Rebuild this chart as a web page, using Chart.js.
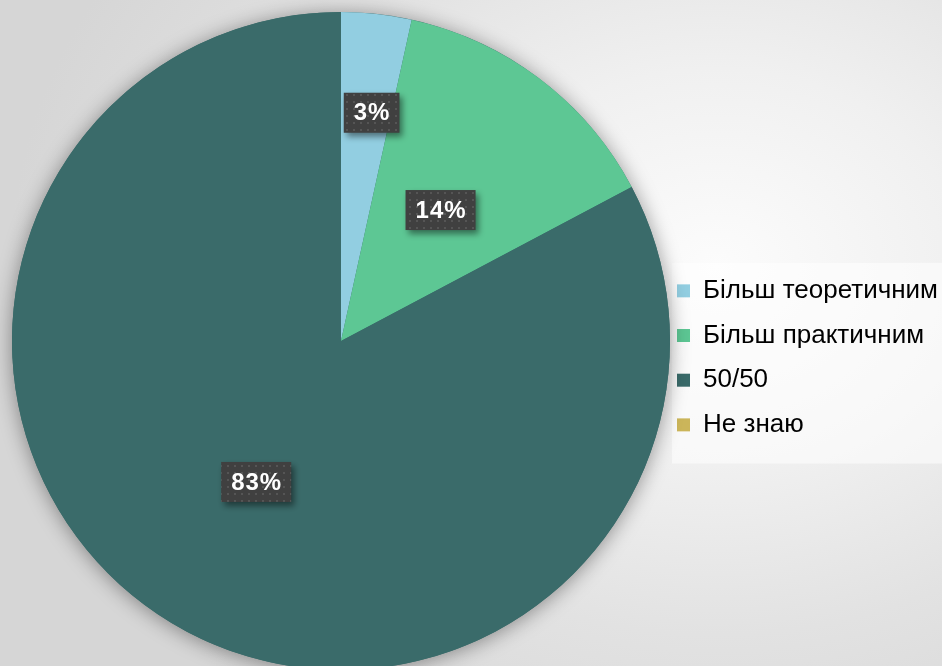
<!DOCTYPE html>
<html lang="uk">
<head>
  <meta charset="UTF-8" />
  <title>Більш теоретичним / практичним</title>
  <script src="https://cdn.jsdelivr.net/npm/chart.js@4.4.3/dist/chart.umd.min.js"></script>
  <style>
    html, body {
      margin: 0;
      padding: 0;
      width: 942px;
      height: 666px;
      overflow: hidden;
      background: radial-gradient(ellipse 75% 85% at 76% 40%, #fcfcfc 0%, #f0f0f0 35%, #e2e2e2 65%, #d6d6d6 100%);
    }
    .chart-box {
      width: 942px;
      height: 680px;
    }
  </style>
</head>
<body>
  <div class="chart-box">
    <canvas id="pieChart" width="942" height="680"></canvas>
  </div>

  <script>
    // Відповіді (кількість)
    const labels = ['Більш теоретичним', 'Більш практичним', '50/50', 'Не знаю'];
    const values = [1, 4, 24, 0];
    const colors = ['#92cee1', '#5dc794', '#3a6b6a', '#cbb55a'];

    const font = 'Arial, "Liberation Sans", sans-serif';

    // крапковий фон для підписів
    function makePattern(ctx) {
      const p = document.createElement('canvas');
      p.width = 7; p.height = 7;
      const pc = p.getContext('2d');
      pc.fillStyle = '#404040';
      pc.fillRect(0, 0, 7, 7);
      pc.fillStyle = '#555555';
      pc.fillRect(3, 3, 2, 2);
      return ctx.createPattern(p, 'repeat');
    }

    // тінь під кругом
    const pieShadow = {
      id: 'pieShadow',
      beforeDatasetsDraw(chart) {
        const arc = chart.getDatasetMeta(0).data[0];
        const ctx = chart.ctx;
        ctx.save();
        ctx.shadowColor = 'rgba(0,0,0,0.4)';
        ctx.shadowBlur = 20;
        ctx.shadowOffsetX = 0;
        ctx.shadowOffsetY = 2;
        ctx.fillStyle = colors[2];
        ctx.beginPath();
        ctx.arc(arc.x, arc.y, arc.outerRadius, 0, Math.PI * 2);
        ctx.fill();
        ctx.restore();
      }
    };

    // підписи з відсотками
    const pctLabels = {
      id: 'pctLabels',
      afterDatasetsDraw(chart) {
        const ctx = chart.ctx;
        const total = values.reduce((a, b) => a + b, 0);
        const pattern = makePattern(ctx);
        chart.getDatasetMeta(0).data.forEach((arc, i) => {
          if (!values[i]) return;
          const text = Math.round(values[i] / total * 100) + '%';
          const mid = (arc.startAngle + arc.endAngle) / 2 + (i === 0 ? 0.025 : 0);
          const f = i === 0 ? 0.7 : 0.5;
          const x = arc.x + Math.cos(mid) * arc.outerRadius * f;
          const y = arc.y + Math.sin(mid) * arc.outerRadius * f;
          ctx.save();
          ctx.font = 'bold 24px ' + font;
          ctx.letterSpacing = '1px';
          const w = ctx.measureText(text).width + 19;
          const h = 40;
          ctx.shadowColor = 'rgba(0,0,0,0.45)';
          ctx.shadowBlur = 6;
          ctx.shadowOffsetX = 3;
          ctx.shadowOffsetY = 4;
          ctx.fillStyle = pattern;
          ctx.fillRect(x - w / 2, y - h / 2, w, h);
          ctx.shadowColor = 'transparent';
          ctx.fillStyle = '#ffffff';
          ctx.textAlign = 'center';
          ctx.textBaseline = 'middle';
          ctx.fillText(text, x + 0.5, y + 1);
          ctx.restore();
        });
      }
    };

    // світла підкладка під легендою
    const legendBg = {
      id: 'legendBg',
      beforeDraw(chart) {
        const lg = chart.legend;
        if (!lg || !lg.legendHitBoxes.length) return;
        const hb = lg.legendHitBoxes;
        const top = hb[0].top - 15;
        const bottom = hb[hb.length - 1].top + hb[hb.length - 1].height + 14;
        const ctx = chart.ctx;
        ctx.save();
        ctx.fillStyle = 'rgba(255,255,255,0.55)';
        ctx.fillRect(lg.left + 2, top, lg.width, bottom - top);
        ctx.restore();
      }
    };

    new Chart(document.getElementById('pieChart').getContext('2d'), {
      type: 'pie',
      data: {
        labels: labels,
        datasets: [{
          data: values,
          backgroundColor: colors,
          borderWidth: 0,
          hoverOffset: 0
        }]
      },
      options: {
        responsive: false,
        animation: false,
        layout: {
          autoPadding: false,
          padding: { left: 12, top: 12, right: 0, bottom: 10 }
        },
        plugins: {
          tooltip: { enabled: false },
          legend: {
            position: 'right',
            align: 'center',
            maxWidth: 272,
            title: { display: true, text: '', padding: { top: 31, bottom: 0 } },
            labels: {
              color: '#000000',
              boxWidth: 13,
              boxHeight: 13,
              padding: 7,
              font: { family: font, size: 26, lineHeight: 1.449 },
              generateLabels(chart) {
                return labels.map((l, i) => ({
                  text: [l],
                  fillStyle: colors[i],
                  strokeStyle: colors[i],
                  fontColor: '#000000',
                  lineWidth: 0,
                  hidden: false,
                  index: i
                }));
              }
            }
          }
        }
      },
      plugins: [legendBg, pieShadow, pctLabels]
    });
  </script>
</body>
</html>
